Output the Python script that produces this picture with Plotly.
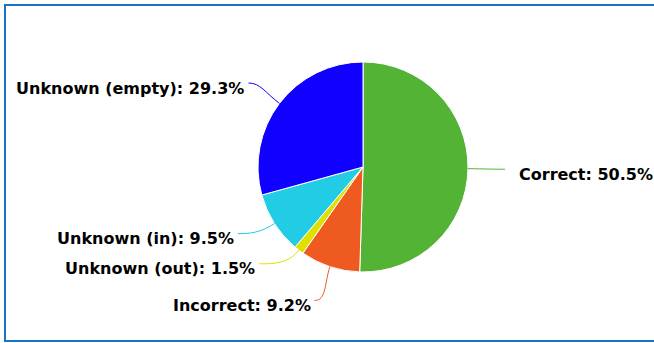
import math
import plotly.graph_objects as go

categories = ["Correct", "Incorrect", "Unknown (out)", "Unknown (in)", "Unknown (empty)"]
shares = [50.5, 9.2, 1.5, 9.5, 29.3]
colors = ["#52b335", "#ee5a1f", "#dfe000", "#22cce5", "#1000ff"]

W, H = 654, 343
CX, CY, R = 363, 167, 105          # pie centre / radius in pixels
LABEL_DIST = 37                     # connector length beyond rim
label_nudge_deg = [0, 1.6, 9.4, 4.6, -1]   # label placement nudges (avoid overlaps)

fig = go.Figure(go.Pie(
    labels=categories, values=shares, sort=False, direction="clockwise", rotation=0,
    marker=dict(colors=colors, line=dict(color="white", width=1)),
    textinfo="none", hoverinfo="skip", showlegend=False,
    domain=dict(x=[(CX - R) / W, (CX + R) / W], y=[1 - (CY + R) / H, 1 - (CY - R) / H]),
))

def px(x, y):
    return x / W, 1 - y / H

total = sum(shares)
cum = 0.0
shapes = []
annotations = []
for cat, v, col, nudge in zip(categories, shares, colors, label_nudge_deg):
    mid = (cum + v / 2) / total * 2 * math.pi
    cum += v
    sx, sy = CX + R * math.sin(mid), CY - R * math.cos(mid)
    la = mid + math.radians(nudge)
    ex, ey = CX + (R + LABEL_DIST) * math.sin(la), CY - (R + LABEL_DIST) * math.cos(la)
    right = math.sin(la) > 0
    c1x, c1y = CX + (R + 18) * math.sin(mid), CY - (R + 18) * math.cos(mid)
    c2x, c2y = ex + (-12 if right else 12), ey
    p = [px(sx, sy), px(c1x, c1y), px(c2x, c2y), px(ex, ey)]
    path = "M {:.4f},{:.4f} C {:.4f},{:.4f} {:.4f},{:.4f} {:.4f},{:.4f}".format(
        *[c for pt in p for c in pt])
    shapes.append(dict(type="path", xref="paper", yref="paper", path=path,
                       line=dict(color=col, width=1)))
    tx = ex + 12 if right else ex - 2
    annotations.append(dict(
        x=tx / W, y=1 - (ey + 5) / H, xref="paper", yref="paper",
        text="<b>{}: {:.1f}%</b>".format(cat, v / total * 100),
        showarrow=False, xanchor="left" if right else "right", yanchor="middle",
        font=dict(family="DejaVu Sans", size=16, color="#000000"),
    ))

shapes.append(dict(type="rect", xref="paper", yref="paper",
                   x0=5 / W, x1=1.02, y0=1 - 341 / H, y1=1 - 5 / H,
                   line=dict(color="#1a73c8", width=2)))

fig.update_layout(
    width=W, height=H, margin=dict(l=0, r=0, t=0, b=0),
    paper_bgcolor="white", plot_bgcolor="white",
    shapes=shapes, annotations=annotations,
)
fig.write_html("out.html")
